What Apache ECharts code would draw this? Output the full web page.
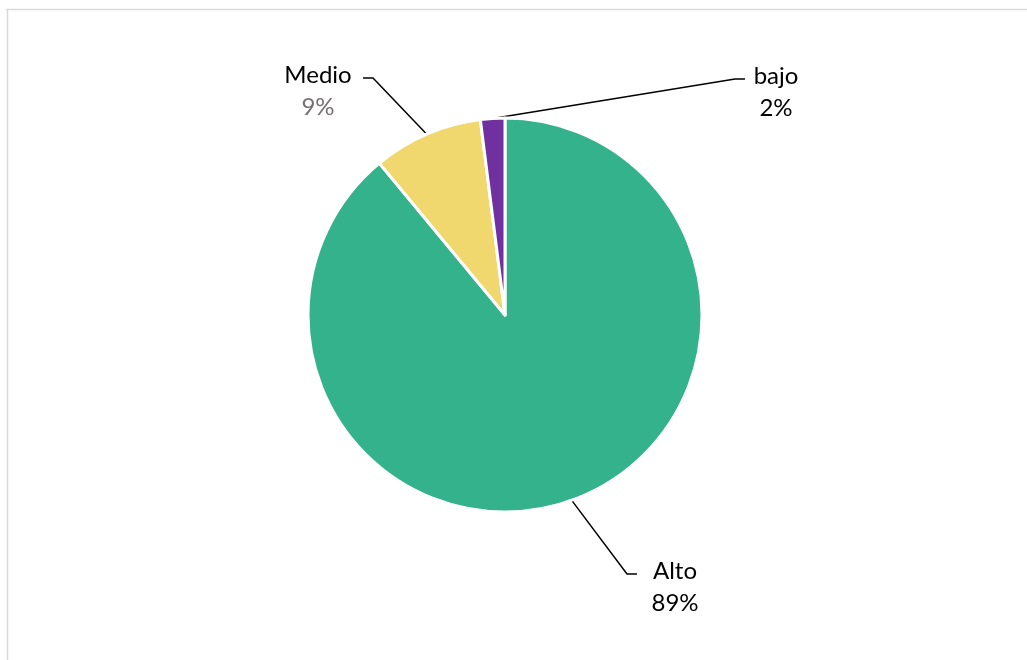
<!DOCTYPE html>
<html>
<head>
<meta charset="utf-8">
<script src="https://cdn.jsdelivr.net/npm/echarts@6/dist/echarts.min.js"></script>
<style>
html,body{margin:0;padding:0;background:#fff;}
#main{width:1027px;height:660px;}
</style>
</head>
<body>
<div id="main"></div>
<script>
const categories = ['Alto', 'Medio', 'bajo'];
const values = [89, 9, 2];
const colors = ['#33B28B', '#F0D86E', '#7030A0'];
const pctColors = ['#000000', '#767171', '#000000'];

const labelPos = {
  0: {x: 675, y: 571, w: 76},
  1: {x: 318, y: 75, w: 90},
  2: {x: 776, y: 76, w: 62}
};

const chart = echarts.init(document.getElementById('main'));
chart.setOption({
  backgroundColor: '#ffffff',
  animation: false,
  graphic: [
    {type: 'line', shape: {x1: 6, y1: 9.5, x2: 1027, y2: 9.5}, style: {stroke: '#d9d9d9', lineWidth: 1.5}},
    {type: 'line', shape: {x1: 7.5, y1: 9, x2: 7.5, y2: 660}, style: {stroke: '#d9d9d9', lineWidth: 1.5}}
  ],
  series: [{
    type: 'pie',
    center: [505, 315],
    radius: [0, 197],
    startAngle: 90,
    clockwise: true,
    avoidLabelOverlap: false,
    itemStyle: {borderColor: '#ffffff', borderWidth: 3},
    data: categories.map((c, i) => ({
      name: c,
      value: values[i],
      itemStyle: {color: colors[i]},
      label: {
        formatter: '{e| }\n{n|{b}}\n{p|' + values[i] + '%}',
        rich: {
          e: {fontSize: 12, lineHeight: 32, width: labelPos[i].w, align: 'center'},
          n: {fontFamily: 'Lato', fontSize: 24, color: '#000', lineHeight: 32, align: 'center'},
          p: {fontFamily: 'Lato', fontSize: 24, color: pctColors[i], lineHeight: 32, align: 'center'}
        }
      }
    })),
    label: {
      show: true,
      position: 'outside',
      align: 'center'
    },
    labelLine: {
      show: true,
      length: 20,
      length2: 10,
      lineStyle: {color: '#000', width: 1.5}
    },
    labelLayout: function (params) {
      const p = labelPos[params.dataIndex];
      return {x: p.x, y: p.y, align: 'center', verticalAlign: 'middle'};
    }
  }]
});
</script>
</body>
</html>
